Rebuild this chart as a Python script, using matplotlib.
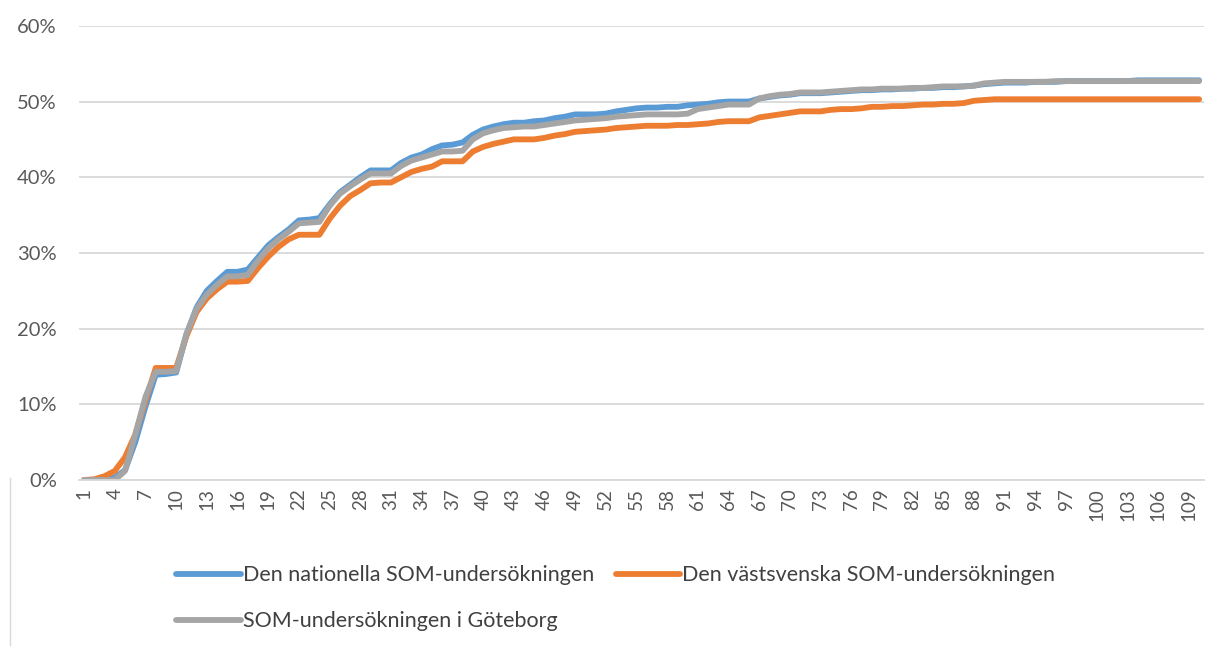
import numpy as np
import matplotlib.pyplot as plt
from matplotlib.ticker import PercentFormatter

plt.rcParams["font.family"] = ["Lato", "DejaVu Sans"]

# Cumulative share (%) per day
national = [
    0, 0, 0.1, 0.3, 1.3, 5.0, 9.7, 13.9, 14.0, 14.2,
    19.2, 22.8, 25.0, 26.3, 27.5, 27.5, 27.8, 29.4, 31.0, 32.1,
    33.1, 34.3, 34.4, 34.6, 36.4, 38.0, 39.0, 40.0, 40.9, 40.9,
    40.9, 41.9, 42.6, 43.0, 43.7, 44.2, 44.3, 44.6, 45.6, 46.3,
    46.7, 47.0, 47.2, 47.2, 47.4, 47.5, 47.8, 48.0, 48.3, 48.3,
    48.3, 48.4, 48.7, 48.9, 49.1, 49.2, 49.2, 49.3, 49.3, 49.5,
    49.6, 49.7, 49.9, 50.0, 50.0, 50.0, 50.4, 50.6, 50.8, 50.9,
    51.1, 51.1, 51.1, 51.2, 51.3, 51.4, 51.5, 51.5, 51.6, 51.6,
    51.7, 51.7, 51.8, 51.8, 51.9, 51.9, 52.0, 52.1, 52.3, 52.4,
    52.5, 52.5, 52.5, 52.6, 52.6, 52.6, 52.7, 52.7, 52.7, 52.7,
    52.7, 52.7, 52.7, 52.8, 52.8, 52.8, 52.8, 52.8, 52.8, 52.8,
]
vastsvenska = [
    0, 0.1, 0.5, 1.2, 3.0, 6.0, 10.5, 14.8, 14.8, 14.8,
    19.0, 22.2, 24.0, 25.2, 26.2, 26.2, 26.3, 28.0, 29.5, 30.8,
    31.8, 32.4, 32.4, 32.4, 34.5, 36.2, 37.5, 38.3, 39.2, 39.3,
    39.3, 40.0, 40.7, 41.1, 41.4, 42.1, 42.1, 42.1, 43.4, 44.0,
    44.4, 44.7, 45.0, 45.0, 45.0, 45.2, 45.5, 45.7, 46.0, 46.1,
    46.2, 46.3, 46.5, 46.6, 46.7, 46.8, 46.8, 46.8, 46.9, 46.9,
    47.0, 47.1, 47.3, 47.4, 47.4, 47.4, 47.9, 48.1, 48.3, 48.5,
    48.7, 48.7, 48.7, 48.9, 49.0, 49.0, 49.1, 49.3, 49.3, 49.4,
    49.4, 49.5, 49.6, 49.6, 49.7, 49.7, 49.8, 50.1, 50.2, 50.3,
    50.3, 50.3, 50.3, 50.3, 50.3, 50.3, 50.3, 50.3, 50.3, 50.3,
    50.3, 50.3, 50.3, 50.3, 50.3, 50.3, 50.3, 50.3, 50.3, 50.3,
]
goteborg = [
    0, 0, 0, 0, 1.2, 6.0, 11.0, 14.3, 14.3, 14.4,
    19.3, 22.6, 24.5, 25.8, 26.9, 26.9, 27.1, 29.0, 30.6, 31.8,
    32.8, 33.9, 34.0, 34.1, 36.2, 37.8, 38.8, 39.7, 40.5, 40.5,
    40.5, 41.5, 42.2, 42.6, 43.0, 43.4, 43.4, 43.5, 45.0, 45.8,
    46.2, 46.5, 46.6, 46.7, 46.7, 46.9, 47.1, 47.3, 47.5, 47.6,
    47.7, 47.8, 48.0, 48.1, 48.2, 48.3, 48.3, 48.3, 48.3, 48.4,
    49.0, 49.2, 49.4, 49.6, 49.6, 49.6, 50.4, 50.7, 50.9, 51.0,
    51.2, 51.2, 51.2, 51.3, 51.4, 51.5, 51.6, 51.6, 51.7, 51.7,
    51.7, 51.8, 51.8, 51.9, 52.0, 52.0, 52.0, 52.1, 52.4, 52.5,
    52.6, 52.6, 52.6, 52.6, 52.6, 52.7, 52.7, 52.7, 52.7, 52.7,
    52.7, 52.7, 52.7, 52.7, 52.7, 52.7, 52.7, 52.7, 52.7, 52.7,
]
days = np.arange(1, len(national) + 1)

labels = [
    "Den nationella SOM-undersökningen",
    "Den västsvenska SOM-undersökningen",
    "SOM-undersökningen i Göteborg",
]
colors = ["#5B9BD5", "#ED7D31", "#A5A5A5"]

fig = plt.figure(figsize=(12.06, 6.46), dpi=100)
ax = fig.add_axes([0.0655, 0.257, 0.933, 0.703])

lines = []
for series, label, color in zip([national, vastsvenska, goteborg], labels, colors):
    ln, = ax.plot(days, series, color=color, lw=4.2, label=label,
                  solid_joinstyle="round", solid_capstyle="round")
    lines.append(ln)

ax.set_xlim(0.5, len(days) + 0.5)
ax.set_ylim(0, 60)
ax.set_yticks(np.arange(0, 61, 10))
ax.yaxis.set_major_formatter(PercentFormatter(decimals=0))
ax.set_xticks(days[::3])
ax.set_xticklabels([str(d) for d in days[::3]], rotation=90)

ax.grid(axis="y", color="#D9D9D9", lw=1.3)
ax.set_axisbelow(True)
for side in ["left", "right", "top"]:
    ax.spines[side].set_visible(False)
ax.spines["bottom"].set_color("#D9D9D9")
ax.spines["bottom"].set_linewidth(1.3)
ax.tick_params(axis="both", length=0, colors="#595959")
ax.tick_params(axis="y", pad=16, labelsize=14.5)
ax.tick_params(axis="x", pad=6, labelsize=13.5)

# row-wise legend order: matplotlib fills columns first
order = [0, 2, 1]
fig.legend([lines[i] for i in order], [labels[i] for i in order],
           loc="upper left", bbox_to_anchor=(0.146, 0.125), ncol=2,
           frameon=False, fontsize=15.5, handlelength=3.0, handletextpad=0.1,
           columnspacing=1.0, labelspacing=1.2, labelcolor="#404040",
           borderaxespad=0, borderpad=0)

# thin chart-area border on the left, as in the original
fig.add_artist(plt.Line2D([0.008, 0.008], [0.0, 0.26], color="#D9D9D9", lw=1))

fig.savefig("out.png", dpi=100)
